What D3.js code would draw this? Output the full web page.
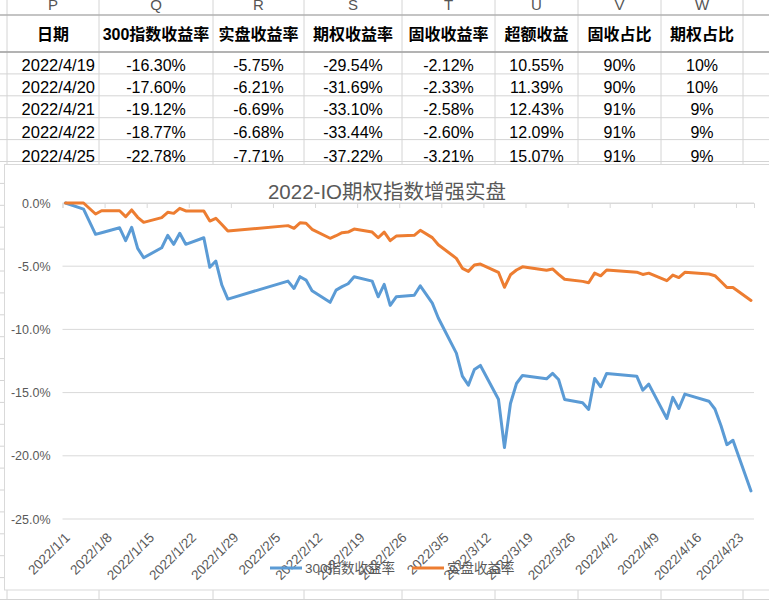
<!DOCTYPE html>
<html>
<head>
<meta charset="utf-8">
<script src="https://cdn.jsdelivr.net/npm/d3@7"></script>
<style>
  body { margin: 0; background: #fff; }
  svg { display: block; font-family: "Liberation Sans", Arial, "Noto Sans CJK SC", sans-serif; }
</style>
</head>
<body>
<svg id="chart" width="769" height="600"></svg>
<script>
// ---- sheet table ----
const colLetters = ['P', 'Q', 'R', 'S', 'T', 'U', 'V', 'W']
const tableHeaders = ['日期', '300指数收益率', '实盘收益率', '期权收益率', '固收收益率', '超额收益', '固收占比', '期权占比']
const tableDates = ['2022/4/19', '2022/4/20', '2022/4/21', '2022/4/22', '2022/4/25']
const tIndex300 = [-16.30, -17.60, -19.12, -18.77, -22.78]
const tActual = [-5.75, -6.21, -6.69, -6.68, -7.71]
const tOption = [-29.54, -31.69, -33.10, -33.44, -37.22]
const tFixed = [-2.12, -2.33, -2.58, -2.60, -3.21]
const tExcess = [10.55, 11.39, 12.43, 12.09, 15.07]
const tFixedShare = [90, 90, 91, 91, 91]
const tOptionShare = [10, 10, 9, 9, 9]

// ---- chart series (percent) ----
const dates = [
  '2022-01-01', '2022-01-04', '2022-01-06', '2022-01-07', '2022-01-10', '2022-01-11', '2022-01-12',
  '2022-01-13', '2022-01-14', '2022-01-17', '2022-01-18', '2022-01-19', '2022-01-20', '2022-01-21',
  '2022-01-24', '2022-01-25', '2022-01-26', '2022-01-27', '2022-01-28', '2022-02-07', '2022-02-08',
  '2022-02-09', '2022-02-10', '2022-02-11', '2022-02-14', '2022-02-15', '2022-02-16', '2022-02-17',
  '2022-02-18', '2022-02-21', '2022-02-22', '2022-02-23', '2022-02-24', '2022-02-25', '2022-02-28',
  '2022-03-01', '2022-03-03', '2022-03-04', '2022-03-07', '2022-03-08', '2022-03-09', '2022-03-10',
  '2022-03-11', '2022-03-14', '2022-03-15', '2022-03-16', '2022-03-17', '2022-03-18', '2022-03-22',
  '2022-03-23', '2022-03-24', '2022-03-25', '2022-03-28', '2022-03-29', '2022-03-30', '2022-03-31',
  '2022-04-01', '2022-04-06', '2022-04-07', '2022-04-08', '2022-04-11', '2022-04-12', '2022-04-13',
  '2022-04-14', '2022-04-18', '2022-04-19', '2022-04-20', '2022-04-21', '2022-04-22', '2022-04-25'
]
const index300 = [
  0, -0.48, -2.48, -2.35, -1.96, -2.98, -1.92,
  -3.59, -4.33, -3.54, -2.56, -3.27, -2.40, -3.27,
  -2.75, -5.09, -4.59, -6.49, -7.60, -6.18, -6.76,
  -5.83, -6.10, -6.94, -7.86, -6.89, -6.62, -6.39,
  -5.83, -6.18, -7.42, -6.44, -8.10, -7.42, -7.30,
  -6.55, -7.92, -9.10, -11.88, -13.70, -14.41, -13.17,
  -12.85, -15.52, -19.34, -15.86, -14.28, -13.64, -13.91,
  -13.48, -13.96, -15.54, -15.80, -16.33, -13.88, -14.54,
  -13.48, -13.70, -14.81, -14.33, -17.05, -15.38, -16.26,
  -15.12, -15.68, -16.30, -17.60, -19.12, -18.77, -22.78
]
const actual = [
  0, 0, -0.87, -0.61, -0.61, -1.08, -0.55,
  -1.13, -1.53, -1.16, -0.74, -0.82, -0.42, -0.63,
  -0.63, -1.43, -1.21, -1.70, -2.22, -1.79, -2.00,
  -1.57, -1.60, -2.08, -2.79, -2.59, -2.35, -2.30,
  -2.06, -2.30, -2.75, -2.30, -2.98, -2.62, -2.56,
  -2.16, -2.74, -3.30, -4.38, -5.17, -5.41, -4.91,
  -4.83, -5.48, -6.67, -5.68, -5.30, -5.05, -5.32,
  -5.22, -5.64, -6.03, -6.20, -6.31, -5.55, -5.76,
  -5.30, -5.47, -5.65, -5.55, -6.15, -5.70, -5.90,
  -5.48, -5.62, -5.75, -6.21, -6.69, -6.68, -7.71
]
const yTicks = [0, -5, -10, -15, -20, -25]
const seriesNames = ['300指数收益率', '实盘收益率']
const seriesColors = ['#5B9BD5', '#ED7D31']
const chartTitle = '2022-IO期权指数增强实盘'

const svg = d3.select('#chart')
const W = 769
const H = 600

// ---- sheet grid ----
const colEdges = [7, 99, 213, 304, 402, 495, 578, 661, 743, 826]
const rowEdges = [52, 73.5, 95.5, 117, 140, 164]
const sheet = svg.append('g').attr('class', 'sheet')

for (let y = 52; y < H; y += 21.9) {
  sheet.append('line')
    .attr('x1', 0).attr('x2', W).attr('y1', y).attr('y2', y)
    .style('stroke', '#d4d4d4')
}
colEdges.forEach(x => {
  sheet.append('line')
    .attr('x1', x).attr('x2', x).attr('y1', 0).attr('y2', H)
    .style('stroke', '#d4d4d4')
})
sheet.append('line')
  .attr('x1', 0).attr('x2', W).attr('y1', 15).attr('y2', 15)
  .style('stroke', '#b0b0b0').style('stroke-width', 1.5)
sheet.append('line')
  .attr('x1', 0).attr('x2', W).attr('y1', 52).attr('y2', 52)
  .style('stroke', '#a0a0a0').style('stroke-width', 1.5)

const colCenter = i => (colEdges[i] + colEdges[i + 1]) / 2

// column letters sit under the top edge of the window, as in the screenshot
colLetters.forEach((c, i) => {
  sheet.append('text')
    .attr('x', colCenter(i)).attr('y', 10)
    .attr('text-anchor', 'middle')
    .style('font-size', '15px').style('fill', '#555')
    .text(c)
})

tableHeaders.forEach((h, i) => {
  sheet.append('text')
    .attr('x', colCenter(i)).attr('y', 39.5)
    .attr('text-anchor', 'middle')
    .style('font-size', '16px').style('font-weight', 'bold').style('fill', '#000')
    .text(h)
})

const pct2 = v => v.toFixed(2) + '%'
const pct0 = v => v.toFixed(0) + '%'
const tableCols = [
  tIndex300.map(pct2), tActual.map(pct2), tOption.map(pct2), tFixed.map(pct2),
  tExcess.map(pct2), tFixedShare.map(pct0), tOptionShare.map(pct0)
]

tableDates.forEach((d, r) => {
  const base = rowEdges[r + 1] - 2.5
  sheet.append('text')
    .attr('x', colEdges[1] - 4).attr('y', base)
    .attr('text-anchor', 'end')
    .style('font-size', '16.5px').style('fill', '#000')
    .text(d)
  tableCols.forEach((col, c) => {
    sheet.append('text')
      .attr('x', colCenter(c + 1)).attr('y', base)
      .attr('text-anchor', 'middle')
      .style('font-size', '16px').style('fill', '#000')
      .text(col[r])
  })
})

// ---- chart object ----
const chart = svg.append('g').attr('class', 'chart-box')
chart.append('rect')
  .attr('x', 4.5).attr('y', 164.5).attr('width', 800).attr('height', 425.5)
  .style('fill', '#fff').style('stroke', '#d9d9d9')

const parse = d3.timeParse('%Y-%m-%d')
const points = dates.map((d, i) => ({
  date: d3.timeHour.offset(parse(d), 12),
  v: [index300[i], actual[i]]
}))

const x = d3.scaleTime()
  .domain([new Date(2022, 0, 1), new Date(2022, 3, 26)])
  .range([62.5, 754])
const y = d3.scaleLinear().domain([-25, 0]).range([519, 203])

chart.selectAll('.grid')
  .data(yTicks)
  .enter().append('line')
  .attr('class', 'grid')
  .attr('x1', x.range()[0]).attr('x2', x.range()[1])
  .attr('y1', d => y(d)).attr('y2', d => y(d))
  .style('stroke', '#d9d9d9')

const yAxis = chart.append('g')
  .attr('transform', `translate(${x.range()[0]},0)`)
  .call(d3.axisLeft(y).tickValues(yTicks).tickSize(0).tickPadding(12)
    .tickFormat(d => d.toFixed(1) + '%'))
yAxis.select('.domain').remove()
yAxis.selectAll('text')
  .style('font-size', '12.5px').style('fill', '#595959')

const weekTicks = d3.timeSaturday.range(new Date(2022, 0, 1), new Date(2022, 3, 26))
const fmtDate = d3.timeFormat('%Y/%-m/%-d')

const xAxis = chart.append('g')
  .attr('transform', `translate(0,${y(0)})`)
  .call(d3.axisBottom(x).tickValues(weekTicks).tickSize(5).tickFormat(''))
xAxis.select('.domain').style('stroke', '#d9d9d9')
xAxis.selectAll('.tick line').style('stroke', '#d9d9d9')

chart.selectAll('.xlabel')
  .data(weekTicks)
  .enter().append('text')
  .attr('class', 'xlabel')
  .attr('transform', d => `translate(${x(d) + 5},535) rotate(-45)`)
  .attr('text-anchor', 'end')
  .attr('dy', '0.35em')
  .style('font-size', '13.5px').style('fill', '#595959')
  .text(fmtDate)

seriesNames.forEach((name, s) => {
  const line = d3.line()
    .x(d => x(d.date))
    .y(d => y(d.v[s]))
  chart.append('path')
    .datum(points)
    .attr('d', line)
    .style('fill', 'none')
    .style('stroke', seriesColors[s])
    .style('stroke-width', 3)
    .style('stroke-linejoin', 'round')
    .style('stroke-linecap', 'round')
})

chart.append('text')
  .attr('x', 387).attr('y', 199)
  .attr('text-anchor', 'middle')
  .style('font-size', '20.5px').style('fill', '#595959')
  .text(chartTitle)

// legend
const legendX = [270, 412]
seriesNames.forEach((name, s) => {
  const g = chart.append('g').attr('transform', `translate(${legendX[s]},568)`)
  g.append('line')
    .attr('x1', 0).attr('x2', 32).attr('y1', 0).attr('y2', 0)
    .style('stroke', seriesColors[s]).style('stroke-width', 3)
  g.append('text')
    .attr('x', 35).attr('y', 0).attr('dy', '0.35em')
    .style('font-size', '13.5px').style('fill', '#595959')
    .text(name)
})
</script>
</body>
</html>
